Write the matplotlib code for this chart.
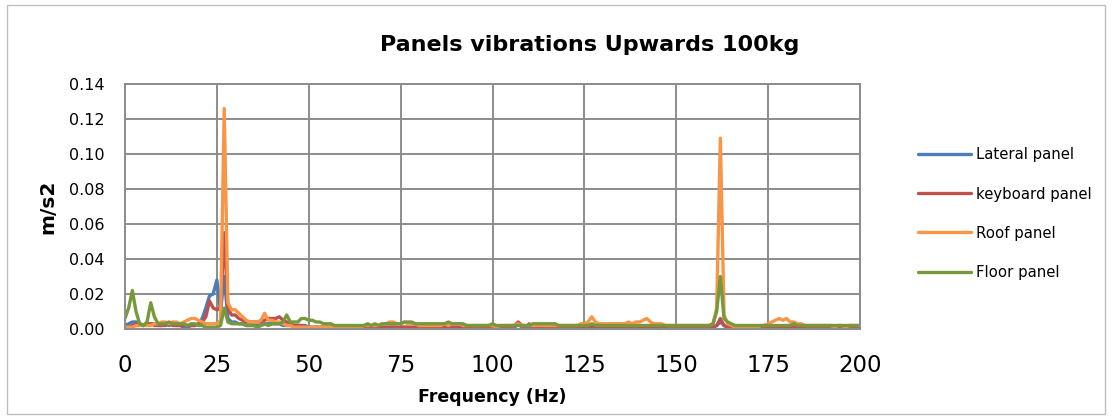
import matplotlib
matplotlib.use("Agg")
import matplotlib.pyplot as plt
from matplotlib.patches import Rectangle

# ---------------- data (1 Hz steps 0..200) ----------------
freq = list(range(0, 201))

lateral = [
    0.002, 0.003, 0.004, 0.004, 0.003, 0.002, 0.003, 0.003, 0.003, 0.002,
    0.002, 0.003, 0.002, 0.003, 0.002, 0.002, 0.001, 0.001, 0.002, 0.002,
    0.003, 0.006, 0.012, 0.019, 0.020, 0.028, 0.010, 0.030, 0.006, 0.004,
    0.004, 0.003, 0.003, 0.002, 0.002, 0.002, 0.002, 0.002, 0.003, 0.003,
    0.003, 0.003, 0.003, 0.002, 0.002, 0.002, 0.002, 0.002, 0.002, 0.002,
    0.001, 0.001, 0.001, 0.001, 0.001, 0.001, 0.001, 0.001, 0.001, 0.001,
    0.001, 0.001, 0.001, 0.001, 0.001, 0.001, 0.001, 0.001, 0.001, 0.001,
    0.001, 0.001, 0.001, 0.001, 0.001, 0.001, 0.001, 0.001, 0.001, 0.001,
    0.001, 0.001, 0.001, 0.001, 0.001, 0.001, 0.001, 0.001, 0.001, 0.001,
    0.001, 0.001, 0.001, 0.001, 0.001, 0.001, 0.001, 0.001, 0.001, 0.001,
    0.001, 0.001, 0.001, 0.001, 0.001, 0.001, 0.001, 0.003, 0.001, 0.001,
    0.001, 0.001, 0.001, 0.001, 0.001, 0.001, 0.001, 0.001, 0.001, 0.001,
    0.001, 0.001, 0.001, 0.001, 0.001, 0.001, 0.001, 0.002, 0.001, 0.001,
    0.001, 0.001, 0.001, 0.001, 0.001, 0.001, 0.001, 0.001, 0.001, 0.001,
    0.001, 0.001, 0.001, 0.001, 0.001, 0.001, 0.001, 0.001, 0.001, 0.001,
    0.001, 0.001, 0.001, 0.001, 0.001, 0.001, 0.001, 0.001, 0.001, 0.001,
    0.001, 0.002, 0.004, 0.002, 0.001, 0.001, 0.001, 0.001, 0.001, 0.001,
    0.001, 0.001, 0.001, 0.001, 0.001, 0.001, 0.001, 0.001, 0.001, 0.001,
    0.001, 0.001, 0.001, 0.001, 0.001, 0.001, 0.001, 0.001, 0.001, 0.001,
    0.001, 0.001, 0.001, 0.001, 0.001, 0.001, 0.001, 0.001, 0.001, 0.001,
    0.001,
]

keyboard = [
    0.001, 0.001, 0.002, 0.003, 0.003, 0.002, 0.003, 0.003, 0.002, 0.002,
    0.002, 0.002, 0.003, 0.002, 0.002, 0.002, 0.002, 0.002, 0.002, 0.002,
    0.003, 0.004, 0.007, 0.016, 0.012, 0.011, 0.012, 0.055, 0.012, 0.008,
    0.008, 0.006, 0.005, 0.004, 0.004, 0.004, 0.004, 0.004, 0.005, 0.006,
    0.006, 0.006, 0.007, 0.005, 0.004, 0.003, 0.002, 0.002, 0.002, 0.001,
    0.001, 0.001, 0.001, 0.001, 0.001, 0.001, 0.001, 0.001, 0.001, 0.001,
    0.001, 0.001, 0.001, 0.001, 0.001, 0.001, 0.001, 0.001, 0.001, 0.001,
    0.001, 0.001, 0.001, 0.001, 0.001, 0.001, 0.001, 0.001, 0.001, 0.001,
    0.001, 0.001, 0.001, 0.001, 0.001, 0.001, 0.001, 0.001, 0.001, 0.001,
    0.001, 0.001, 0.001, 0.001, 0.001, 0.001, 0.001, 0.001, 0.001, 0.001,
    0.001, 0.001, 0.001, 0.001, 0.001, 0.001, 0.002, 0.004, 0.002, 0.001,
    0.003, 0.001, 0.001, 0.001, 0.001, 0.001, 0.001, 0.001, 0.001, 0.001,
    0.001, 0.001, 0.001, 0.001, 0.001, 0.001, 0.001, 0.001, 0.001, 0.001,
    0.001, 0.001, 0.001, 0.001, 0.001, 0.001, 0.001, 0.001, 0.001, 0.001,
    0.001, 0.001, 0.001, 0.001, 0.001, 0.001, 0.001, 0.001, 0.001, 0.001,
    0.001, 0.001, 0.001, 0.001, 0.001, 0.001, 0.001, 0.001, 0.001, 0.001,
    0.001, 0.002, 0.006, 0.002, 0.001, 0.001, 0.001, 0.001, 0.001, 0.001,
    0.001, 0.001, 0.001, 0.001, 0.001, 0.001, 0.001, 0.001, 0.001, 0.001,
    0.001, 0.001, 0.001, 0.001, 0.001, 0.001, 0.001, 0.001, 0.001, 0.001,
    0.001, 0.001, 0.001, 0.001, 0.001, 0.001, 0.001, 0.001, 0.001, 0.001,
    0.001,
]

roof = [
    0.001, 0.001, 0.001, 0.002, 0.002, 0.002, 0.002, 0.002, 0.003, 0.003,
    0.004, 0.004, 0.003, 0.004, 0.004, 0.003, 0.004, 0.005, 0.006, 0.006,
    0.005, 0.004, 0.003, 0.003, 0.003, 0.003, 0.005, 0.126, 0.015, 0.011,
    0.011, 0.009, 0.007, 0.005, 0.004, 0.004, 0.004, 0.005, 0.009, 0.005,
    0.005, 0.004, 0.004, 0.003, 0.002, 0.002, 0.001, 0.001, 0.001, 0.001,
    0.001, 0.001, 0.001, 0.001, 0.001, 0.001, 0.001, 0.001, 0.001, 0.001,
    0.001, 0.001, 0.001, 0.001, 0.001, 0.002, 0.002, 0.002, 0.002, 0.002,
    0.003, 0.003, 0.004, 0.004, 0.003, 0.003, 0.004, 0.003, 0.003, 0.003,
    0.002, 0.002, 0.002, 0.002, 0.002, 0.002, 0.002, 0.003, 0.002, 0.003,
    0.003, 0.003, 0.002, 0.002, 0.002, 0.002, 0.002, 0.002, 0.002, 0.002,
    0.002, 0.001, 0.002, 0.002, 0.002, 0.002, 0.002, 0.003, 0.002, 0.002,
    0.002, 0.002, 0.002, 0.002, 0.002, 0.002, 0.002, 0.002, 0.002, 0.002,
    0.002, 0.002, 0.002, 0.002, 0.003, 0.003, 0.004, 0.007, 0.004, 0.003,
    0.003, 0.003, 0.003, 0.003, 0.003, 0.003, 0.003, 0.004, 0.003, 0.004,
    0.004, 0.005, 0.006, 0.004, 0.003, 0.003, 0.003, 0.002, 0.002, 0.002,
    0.002, 0.002, 0.002, 0.002, 0.002, 0.002, 0.002, 0.002, 0.002, 0.002,
    0.003, 0.012, 0.109, 0.008, 0.003, 0.002, 0.001, 0.001, 0.001, 0.001,
    0.001, 0.001, 0.001, 0.002, 0.002, 0.003, 0.004, 0.005, 0.006, 0.005,
    0.006, 0.004, 0.004, 0.003, 0.003, 0.002, 0.002, 0.002, 0.002, 0.002,
    0.002, 0.002, 0.002, 0.001, 0.002, 0.002, 0.001, 0.002, 0.002, 0.002,
    0.002,
]

floor = [
    0.006, 0.012, 0.022, 0.010, 0.003, 0.002, 0.004, 0.015, 0.007, 0.003,
    0.003, 0.003, 0.004, 0.003, 0.003, 0.003, 0.003, 0.002, 0.003, 0.003,
    0.002, 0.002, 0.001, 0.001, 0.001, 0.001, 0.002, 0.012, 0.004, 0.003,
    0.003, 0.003, 0.003, 0.002, 0.002, 0.002, 0.001, 0.002, 0.003, 0.002,
    0.003, 0.003, 0.003, 0.004, 0.008, 0.004, 0.004, 0.004, 0.006, 0.006,
    0.005, 0.005, 0.004, 0.004, 0.003, 0.003, 0.003, 0.002, 0.002, 0.002,
    0.002, 0.002, 0.002, 0.002, 0.002, 0.002, 0.003, 0.002, 0.003, 0.002,
    0.003, 0.003, 0.003, 0.003, 0.003, 0.003, 0.004, 0.004, 0.004, 0.003,
    0.003, 0.003, 0.003, 0.003, 0.003, 0.003, 0.003, 0.003, 0.004, 0.003,
    0.003, 0.003, 0.003, 0.002, 0.002, 0.002, 0.002, 0.002, 0.002, 0.002,
    0.003, 0.002, 0.002, 0.002, 0.002, 0.002, 0.002, 0.002, 0.002, 0.002,
    0.002, 0.003, 0.003, 0.003, 0.003, 0.003, 0.003, 0.003, 0.002, 0.002,
    0.002, 0.002, 0.002, 0.002, 0.002, 0.002, 0.002, 0.003, 0.002, 0.002,
    0.002, 0.002, 0.002, 0.002, 0.002, 0.002, 0.002, 0.002, 0.002, 0.002,
    0.002, 0.002, 0.002, 0.002, 0.002, 0.002, 0.002, 0.002, 0.002, 0.002,
    0.002, 0.002, 0.002, 0.002, 0.002, 0.002, 0.002, 0.002, 0.002, 0.002,
    0.003, 0.010, 0.030, 0.006, 0.004, 0.003, 0.002, 0.002, 0.002, 0.002,
    0.002, 0.002, 0.002, 0.002, 0.002, 0.002, 0.002, 0.002, 0.002, 0.002,
    0.002, 0.002, 0.003, 0.002, 0.002, 0.002, 0.002, 0.002, 0.002, 0.002,
    0.002, 0.002, 0.002, 0.002, 0.002, 0.002, 0.002, 0.002, 0.002, 0.002,
    0.002,
]

series_names = ["Lateral panel", "keyboard panel", "Roof panel", "Floor panel"]
series_colors = ["#4a7ebb", "#c0504d", "#f79646", "#77993c"]
x_ticks = [0, 25, 50, 75, 100, 125, 150, 175, 200]
y_ticks = [0.00, 0.02, 0.04, 0.06, 0.08, 0.10, 0.12, 0.14]

title = "Panels vibrations Upwards 100kg"
x_label = "Frequency (Hz)"
y_label = "m/s2"

# ---------------- figure ----------------
plt.rcParams["font.family"] = ["DejaVu Sans"]

fig = plt.figure(figsize=(11.12, 4.19), dpi=100)
fig.patch.set_facecolor("white")
fig.patches.append(Rectangle((0.006, 0.012), 0.988, 0.975, transform=fig.transFigure,
                             fill=False, edgecolor="#bfbfbf", linewidth=1.0))

ax = fig.add_axes([0.1124, 0.2148, 0.661, 0.5847])

for vals, name, col in zip([lateral, keyboard, roof, floor], series_names, series_colors):
    ax.plot(freq, vals, color=col, linewidth=2.4, label=name, solid_joinstyle="round",
            solid_capstyle="round")

ax.set_xlim(0, 200)
ax.set_ylim(0, 0.14)
ax.set_xticks(x_ticks)
ax.set_yticks(y_ticks)
ax.set_xticklabels([str(t) for t in x_ticks], fontsize=16.5)
ax.set_yticklabels([f"{t:.2f}" for t in y_ticks], fontsize=11.5)
ax.tick_params(axis="both", length=0)
ax.tick_params(axis="y", pad=15)
ax.tick_params(axis="x", pad=18)

ax.grid(True, color="#8c8c8c", linewidth=1.4)
ax.set_axisbelow(True)
for s in ax.spines.values():
    s.set_color("#8c8c8c")
    s.set_linewidth(1.4)

ax.set_xlabel(x_label, fontsize=12.5, fontweight="bold", va="center")
ax.xaxis.set_label_coords(0.5, -0.278)
ax.set_ylabel(y_label, fontsize=14.5, fontweight="bold", va="center")
ax.yaxis.set_label_coords(-0.105, 0.5)

fig.text(0.5306, 1 - 45 / 419, title, fontsize=16, fontweight="bold", ha="center", va="center")

leg = ax.legend(loc="center left", bbox_to_anchor=(1.079, 0.471), frameon=False,
                fontsize=10.7, handlelength=3.56, handletextpad=0.34, labelspacing=1.62,
                borderpad=0, borderaxespad=0)
for h in leg.get_lines():
    h.set_linewidth(2.4)

fig.savefig("out.png", dpi=100, facecolor="white")
